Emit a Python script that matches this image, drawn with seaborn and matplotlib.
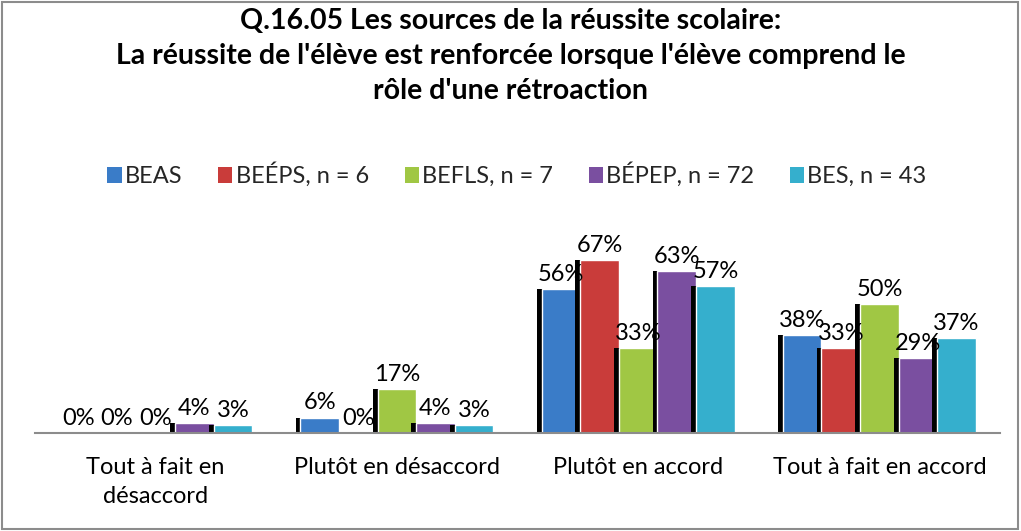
import matplotlib
matplotlib.use("Agg")
import matplotlib.pyplot as plt
import matplotlib.patheffects as pe
from matplotlib.patches import Rectangle
import seaborn as sns
import pandas as pd

categories = ["Tout à fait en\ndésaccord", "Plutôt en désaccord", "Plutôt en accord", "Tout à fait en accord"]
series = ["BEAS", "BEÉPS, n = 6", "BEFLS, n = 7", "BÉPEP, n = 72", "BES, n = 43"]
beas = [0.00, 0.06, 0.56, 0.38]
beeps = [0.00, 0.00, 0.67, 0.33]
befls = [0.00, 0.17, 0.33, 0.50]
bepep = [0.04, 0.04, 0.63, 0.29]
bes = [0.03, 0.03, 0.57, 0.37]
colors = ["#3A7CC8", "#C93C3A", "#A0C744", "#7A4FA0", "#35AFCD"]

values = [beas, beeps, befls, bepep, bes]
rows = []
for s, vals in zip(series, values):
    for c, v in zip(categories, vals):
        rows.append({"cat": c, "series": s, "val": v})
df = pd.DataFrame(rows)

sns.set_theme(style="white")
plt.rcParams['font.family'] = ['Lato', 'DejaVu Sans']

fig = plt.figure(figsize=(10.21, 5.31), dpi=100)
ax = fig.add_axes([35/1021, 98/531, 965/1021, 206/531])

sns.barplot(data=df, x="cat", y="val", hue="series", palette=colors,
            order=categories, hue_order=series, width=0.8, ax=ax,
            edgecolor="white", linewidth=1.0, saturation=1)

for p in ax.patches:
    p.set_path_effects([pe.SimplePatchShadow(offset=(-3.5, 0), shadow_rgbFace="black", alpha=1.0), pe.Normal()])

for cont in ax.containers:
    ax.bar_label(cont, labels=[f"{v*100:.0f}%" for v in cont.datavalues],
                 padding=3, fontsize=17, color="#000000")

ax.set_ylim(0, 0.8)
ax.set_xlim(-0.5, 3.5)
ax.set_yticks([])
ax.set_xlabel("")
ax.set_ylabel("")
for s in ["top", "right", "left"]:
    ax.spines[s].set_visible(False)
ax.spines["bottom"].set_color("#8c8c8c")
ax.spines["bottom"].set_linewidth(1.5)
ax.tick_params(axis="x", length=0, labelsize=17, pad=17, colors="#000000")
for lbl in ax.get_xticklabels():
    lbl.set_linespacing(1.5)

leg = ax.legend(loc="center", bbox_to_anchor=(517/1021, 1 - 175/531), bbox_transform=fig.transFigure,
                ncol=5, frameon=False, fontsize=17, handlelength=0.6, handleheight=0.7,
                handletextpad=0.15, columnspacing=1.5)
for h in leg.legend_handles:
    h.set_path_effects([])
    h.set_edgecolor("none")

fig.text(0.5, 1 - 56/531,
         "Q.16.05 Les sources de la réussite scolaire:\nLa réussite de l'élève est renforcée lorsque l'élève comprend le\nrôle d'une rétroaction",
         ha="center", va="center", fontsize=20.5, fontweight="bold", linespacing=1.42, color="#000000")

fig.patches.append(Rectangle((2/1021, 2/531), 1016/1021, 527/531, transform=fig.transFigure,
                             fill=False, edgecolor="#8c8c8c", linewidth=1.5))

fig.savefig("out.png", dpi=100, facecolor="white")
